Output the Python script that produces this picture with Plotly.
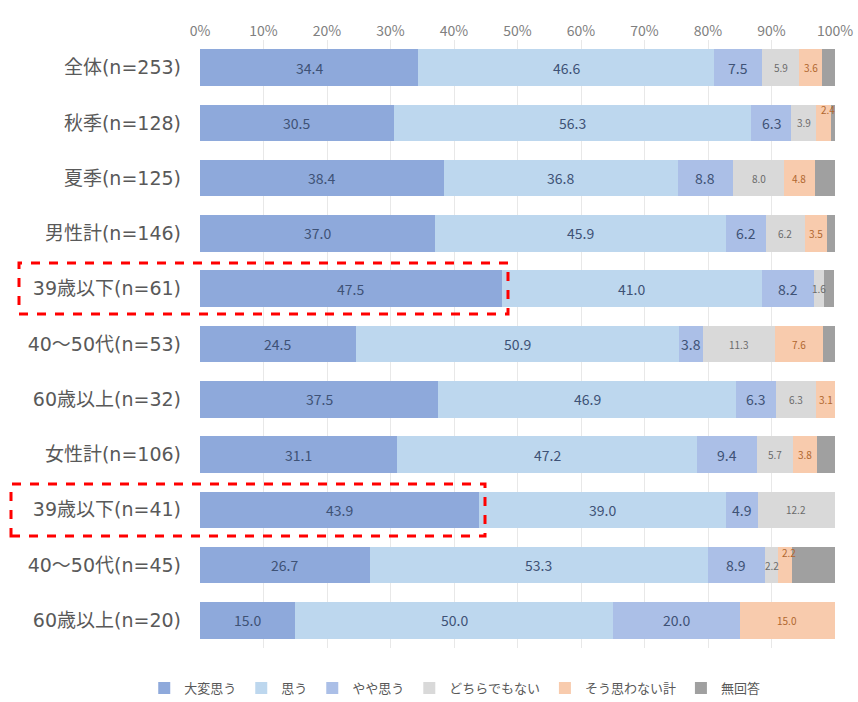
import plotly.graph_objects as go

categories = ["全体(n=253)", "秋季(n=128)", "夏季(n=125)", "男性計(n=146)",
              "39歳以下(n=61)", "40～50代(n=53)", "60歳以上(n=32)",
              "女性計(n=106)", "39歳以下(n=41)", "40～50代(n=45)", "60歳以上(n=20)"]

series_names = ["大変思う", "思う", "やや思う", "どちらでもない", "そう思わない計", "無回答"]

very_much = [34.4, 30.5, 38.4, 37.0, 47.5, 24.5, 37.5, 31.1, 43.9, 26.7, 15.0]
agree = [46.6, 56.3, 36.8, 45.9, 41.0, 50.9, 46.9, 47.2, 39.0, 53.3, 50.0]
somewhat = [7.5, 6.3, 8.8, 6.2, 8.2, 3.8, 6.3, 9.4, 4.9, 8.9, 20.0]
neither = [5.9, 3.9, 8.0, 6.2, 1.6, 11.3, 6.3, 5.7, 12.2, 2.2, 0.0]
disagree = [3.6, 2.4, 4.8, 3.5, 0.0, 7.6, 3.1, 3.8, 0.0, 2.2, 15.0]
no_answer = [2.0, 0.8, 3.2, 1.2, 1.6, 1.9, 0.0, 2.8, 0.0, 6.7, 0.0]

tick_vals = [0, 10, 20, 30, 40, 50, 60, 70, 80, 90, 100]

values = [very_much, agree, somewhat, neither, disagree, no_answer]
colors = ["#8EA9DB", "#BDD7EE", "#ABBFE7", "#D9D9D9", "#F8CBAD", "#A0A0A0"]
label_colors = ["#3E5276", "#3E5276", "#3E5276", "#6B6B6B", "#B0672F", None]
label_sizes = [14, 14, 14, 10, 10, 0]
raised = {(1, 4), (9, 4)}  # (row, series) labels drawn above the bar

FONT = "Noto Sans CJK JP"
CAT_FONT = "DejaVu Sans, Noto Sans CJK JP"

fig = go.Figure()
for name, vals, col in zip(series_names, values, colors):
    fig.add_trace(go.Bar(
        y=categories, x=vals, name=name, orientation="h",
        marker=dict(color=col, line=dict(width=0)),
        hoverinfo="x+name",
    ))

annotations = []
for r, cat in enumerate(categories):
    cum = 0.0
    for s, vals in enumerate(values):
        v = vals[r]
        if v > 0 and label_colors[s] is not None:
            annotations.append(dict(
                x=cum + v / 2, y=cat, xref="x", yref="y",
                text=f"{v:.1f}", showarrow=False,
                font=dict(family=FONT, size=label_sizes[s], color=label_colors[s]),
                yshift=13 if (r, s) in raised else 0,
                xshift=4 if (r, s) in raised else 0,
            ))
        cum += v

L, R, T, B = 200, 23, 40, 54
W, H = 858, 702
pw, ph = W - L - R, H - T - B

def px_x(p):
    return (p - L) / pw

def px_y(p):
    return (H - B - p) / ph

shapes = [
    dict(type="rect", xref="paper", yref="paper",
         x0=px_x(19), x1=px_x(508), y0=px_y(314), y1=px_y(263),
         line=dict(color="#FF0000", width=3, dash="dash"), layer="above"),
    dict(type="rect", xref="paper", yref="paper",
         x0=px_x(11), x1=px_x(485), y0=px_y(536), y1=px_y(484),
         line=dict(color="#FF0000", width=3, dash="dash"), layer="above"),
]

fig.update_layout(
    width=W, height=H,
    barmode="stack", bargap=0.34,
    margin=dict(l=L, r=R, t=T, b=B, autoexpand=False),
    paper_bgcolor="white", plot_bgcolor="white",
    font=dict(family=FONT, color="#595959"),
    xaxis=dict(side="top", range=[0, 100], tickvals=tick_vals,
               ticktext=[f"{t}%" for t in tick_vals],
               showgrid=True, gridcolor="#E8E8E8", gridwidth=1,
               zeroline=False, showline=False, automargin=False,
               tickfont=dict(size=14, color="#808080"), ticks=""),
    yaxis=dict(autorange="reversed", showgrid=False, showline=False,
               tickfont=dict(family=CAT_FONT, size=19, color="#595959"), ticks="",
               ticklabelstandoff=18, automargin=False),
    legend=dict(orientation="h", xref="container", x=0.53, xanchor="center",
                yref="container", y=0.02, yanchor="middle",
                font=dict(size=13, color="#595959"), traceorder="normal",
                itemwidth=30, tracegroupgap=0),
    annotations=annotations,
    shapes=shapes,
    showlegend=True,
)

fig.write_html("out.html", config={"displayModeBar": False},
               post_script="document.body.style.margin='0';")
